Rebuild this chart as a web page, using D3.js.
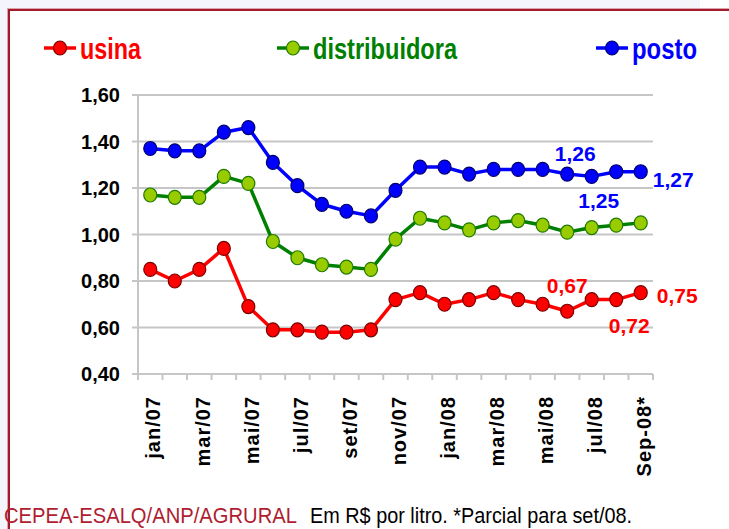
<!DOCTYPE html>
<html>
<head>
<meta charset="utf-8">
<script src="https://cdn.jsdelivr.net/npm/d3@7"></script>
<style>
  html, body { margin: 0; padding: 0; background: #fff; }
  svg { display: block; }
</style>
</head>
<body>
<svg id="chart" width="729" height="529"></svg>
<script>
const months = ["jan/07","fev/07","mar/07","abr/07","mai/07","jun/07","jul/07","ago/07","set/07","out/07","nov/07","dez/07",
  "jan/08","fev/08","mar/08","abr/08","mai/08","jun/08","jul/08","ago/08","Sep-08*"];
const tickLabels = ["jan/07","mar/07","mai/07","jul/07","set/07","nov/07","jan/08","mar/08","mai/08","jul/08","Sep-08*"];
const yTicks = [0.4, 0.6, 0.8, 1.0, 1.2, 1.4, 1.6];

const usina = [0.85,0.80,0.85,0.94,0.69,0.59,0.59,0.58,0.58,0.59,0.72,0.75,0.70,0.72,0.75,0.72,0.70,0.67,0.72,0.72,0.75];
const distribuidora = [1.17,1.16,1.16,1.25,1.22,0.97,0.90,0.87,0.86,0.85,0.98,1.07,1.05,1.02,1.05,1.06,1.04,1.01,1.03,1.04,1.05];
const posto = [1.37,1.36,1.36,1.44,1.46,1.31,1.21,1.13,1.10,1.08,1.19,1.29,1.29,1.26,1.28,1.28,1.28,1.26,1.25,1.27,1.27];

const series = [
  {name: "usina", values: usina, line: "#ff0000", fill: "#ff0000", stroke: "#7a0000"},
  {name: "distribuidora", values: distribuidora, line: "#008000", fill: "#99cc00", stroke: "#1f7a00"},
  {name: "posto", values: posto, line: "#0000ff", fill: "#0000ff", stroke: "#000070"}
];

// data labels: [series index, month index, text, dx, dy, anchor]
const notes = [
  [2, 17, "1,26", 8, -13, "middle"],
  [2, 20, "1,27", 12, 15, "start"],
  [2, 18, "1,25", 7, 32, "middle"],
  [0, 17, "0,67", 0, -18, "middle"],
  [0, 20, "0,75", 16, 10, "start"],
  [0, 19, "0,72", 13, 33, "middle"]
];

const svg = d3.select("#chart");
const font = "'Liberation Sans', Arial, sans-serif";
const narrow = "'Liberation Sans Narrow', 'Arial Narrow', 'Liberation Sans', sans-serif";

// page frame
svg.append("rect").attr("x", 0).attr("y", 0).attr("width", 700).attr("height", 8).attr("fill", "#f4f4fd");
svg.append("rect").attr("x", 0).attr("y", 0).attr("width", 7).attr("height", 529).attr("fill", "#f4f4fd");
svg.append("rect").attr("x", 7.5).attr("y", 8.5).attr("width", 760).attr("height", 560)
  .attr("fill", "#fff").attr("stroke", "#dca4ab").attr("stroke-width", 1);
svg.append("rect").attr("x", 9).attr("y", 10).attr("width", 760).attr("height", 560)
  .attr("fill", "none").attr("stroke", "#a31a2c").attr("stroke-width", 2);

const x = d3.scaleBand().domain(months).range([138, 653]);
const y = d3.scaleLinear().domain([0.4, 1.6]).range([374, 95]);
const cx = (i) => x(months[i]) + x.bandwidth() / 2;

// grid
svg.append("g").selectAll("line").data(yTicks).enter().append("line")
  .attr("x1", 132).attr("x2", 653)
  .attr("y1", (d) => y(d)).attr("y2", (d) => y(d))
  .attr("stroke", "#c6c6c6").attr("stroke-width", 2);

svg.append("line").attr("x1", 138).attr("x2", 138).attr("y1", y(1.6)).attr("y2", y(0.4))
  .attr("stroke", "#c6c6c6").attr("stroke-width", 2);

// x ticks at category boundaries
svg.append("g").selectAll("line").data(months.concat(["end"])).enter().append("line")
  .attr("x1", (d, i) => 138 + i * x.step()).attr("x2", (d, i) => 138 + i * x.step())
  .attr("y1", y(0.4)).attr("y2", y(0.4) + 6)
  .attr("stroke", "#c6c6c6").attr("stroke-width", 2);

svg.append("g").selectAll("text").data(yTicks).enter().append("text")
  .attr("x", 120).attr("y", (d) => y(d)).attr("dy", "0.36em")
  .attr("text-anchor", "end")
  .attr("font-family", font)
  .attr("font-weight", "bold").attr("font-size", 20)
  .text((d) => d3.format(".2f")(d).replace(".", ","));

svg.append("g").selectAll("text").data(tickLabels).enter().append("text")
  .attr("transform", (d) => `translate(${x(months.includes(d) ? d : months[months.length - 1]) + x.bandwidth() / 2 + 3},396) rotate(-90)`)
  .attr("dy", "0.36em")
  .attr("text-anchor", "end")
  .attr("font-family", font)
  .attr("font-weight", "bold").attr("font-size", 20)
  .attr("letter-spacing", 1)
  .text((d) => d);

// lines and markers
const line = d3.line().x((d, i) => cx(i)).y((d) => y(d));

series.forEach((s) => {
  svg.append("path").datum(s.values)
    .attr("d", line).attr("fill", "none")
    .attr("stroke", s.line).attr("stroke-width", 3.5)
    .attr("stroke-linejoin", "round");
  svg.append("g").selectAll("ellipse").data(s.values).enter().append("ellipse")
    .attr("cx", (d, i) => cx(i)).attr("cy", (d) => y(d))
    .attr("rx", 6.5).attr("ry", 7)
    .attr("fill", s.fill).attr("stroke", s.stroke).attr("stroke-width", 1.2);
});

svg.append("g").selectAll("text").data(notes).enter().append("text")
  .attr("x", (d) => cx(d[1]) + d[3])
  .attr("y", (d) => y(series[d[0]].values[d[1]]) + d[4])
  .attr("text-anchor", (d) => d[5])
  .attr("font-family", font)
  .attr("font-weight", "bold").attr("font-size", 21)
  .attr("fill", (d) => series[d[0]].line)
  .text((d) => d[2]);

// legend
const legendX = [60, 293, 612];
const legendW = [61, 144, 65];
const legend = svg.append("g").selectAll("g").data(series).enter().append("g")
  .attr("transform", (d, i) => `translate(${legendX[i]},48)`);
legend.append("line").attr("x1", -16).attr("x2", 16)
  .attr("stroke", (d) => d.line).attr("stroke-width", 3.5);
legend.append("ellipse").attr("rx", 6.5).attr("ry", 7)
  .attr("fill", (d) => d.fill).attr("stroke", (d) => d.stroke).attr("stroke-width", 1.2);
legend.append("text")
  .attr("x", 20).attr("y", 11)
  .attr("font-family", narrow)
  .attr("font-weight", "bold").attr("font-size", 29)
  .attr("fill", (d) => d.line)
  .attr("textLength", (d, i) => legendW[i]).attr("lengthAdjust", "spacingAndGlyphs")
  .text((d) => d.name);

// footer
svg.append("text").attr("x", 4).attr("y", 523)
  .attr("font-family", narrow)
  .attr("font-size", 22).attr("fill", "#b01c30")
  .attr("textLength", 293).attr("lengthAdjust", "spacingAndGlyphs")
  .text("CEPEA-ESALQ/ANP/AGRURAL");
svg.append("text").attr("x", 310).attr("y", 523)
  .attr("font-family", narrow)
  .attr("font-size", 22).attr("fill", "#000")
  .attr("textLength", 322).attr("lengthAdjust", "spacingAndGlyphs")
  .text("Em R$ por litro. *Parcial para set/08.");
</script>
</body>
</html>
